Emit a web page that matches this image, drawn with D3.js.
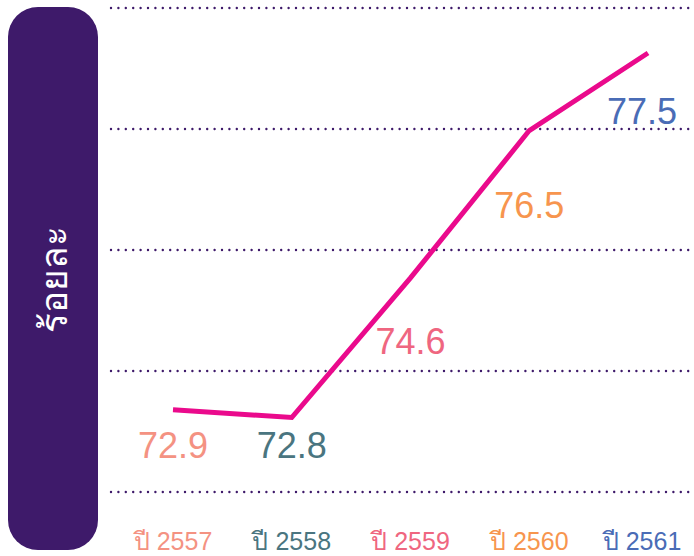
<!DOCTYPE html>
<html>
<head>
<meta charset="utf-8">
<script src="https://cdn.jsdelivr.net/npm/d3@7"></script>
<style>
  body { margin: 0; background: #fff; }
  svg { display: block; font-family: "Liberation Sans", Arial, sans-serif; }
</style>
</head>
<body>
<svg width="694" height="556"></svg>
<script>
// Data
var years = ["ปี 2557", "ปี 2558", "ปี 2559", "ปี 2560", "ปี 2561"];
var values = [72.9, 72.8, 74.6, 76.5, 77.5];
var colors = ["#f49282", "#4a7580", "#ef6680", "#f7954e", "#4a6cb6"];
var yTitle = "ร้อยละ";

// layout tweaks for the value labels (hand placed in the original)
var labelDx = [0, 0, 0, 0, -6];
var labelDy = [48, 40, 76, 87, 71];

var svg = d3.select("svg"),
    width = +svg.attr("width"),
    height = +svg.attr("height");

// Scales
var x = d3.scalePoint().domain(years).range([173, 648]);
var y = d3.scaleLinear().domain([71.84, 78.08]).range([492, 8]);

// Purple side panel with the y title
svg.append("rect")
    .attr("x", 8).attr("y", 7)
    .attr("width", 90).attr("height", 543)
    .attr("rx", 30).attr("ry", 30)
    .attr("fill", "#3e1a6a");

svg.append("text")
    .attr("transform", "translate(67,279) rotate(-90)")
    .attr("text-anchor", "middle")
    .attr("fill", "#fff")
    .style("font-size", "37px")
    .text(yTitle);

// Dotted grid lines, splitting the y domain in four
var dom = y.domain();
var gridVals = d3.range(5).map(function(i) { return dom[0] + i * (dom[1] - dom[0]) / 4; });

svg.append("g")
    .selectAll("line")
    .data(gridVals)
    .enter().append("line")
    .attr("x1", 111).attr("x2", width)
    .attr("y1", function(d) { return y(d); })
    .attr("y2", function(d) { return y(d); })
    .attr("stroke", "#3e1a6a")
    .attr("stroke-width", 2.4)
    .attr("stroke-linecap", "round")
    .attr("stroke-dasharray", "0,7.4");

// The line
var line = d3.line()
    .x(function(d, i) { return x(years[i]); })
    .y(function(d) { return y(d); });

svg.append("path")
    .datum(values)
    .attr("d", line)
    .attr("fill", "none")
    .attr("stroke", "#ea0a8c")
    .attr("stroke-width", 5);

// Value labels
svg.append("g")
    .selectAll("text")
    .data(values)
    .enter().append("text")
    .attr("x", function(d, i) { return x(years[i]) + labelDx[i]; })
    .attr("y", function(d, i) { return y(d) + labelDy[i]; })
    .attr("text-anchor", "middle")
    .attr("fill", function(d, i) { return colors[i]; })
    .style("font-size", "36px")
    .text(function(d) { return d.toFixed(1); });

// Category labels
svg.append("g")
    .selectAll("text")
    .data(years)
    .enter().append("text")
    .attr("x", function(d, i) { return x(d) + labelDx[i]; })
    .attr("y", 550)
    .attr("text-anchor", "middle")
    .attr("fill", function(d, i) { return colors[i]; })
    .style("font-size", "25px")
    .text(function(d) { return d; });
</script>
</body>
</html>
